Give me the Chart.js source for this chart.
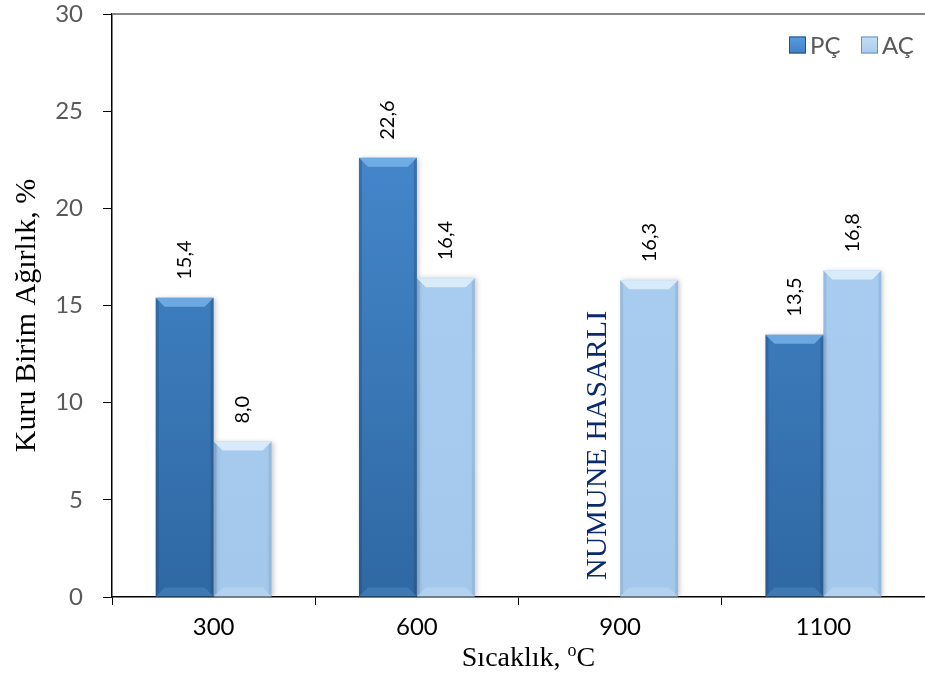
<!DOCTYPE html>
<html>
<head>
<meta charset="utf-8">
<script src="https://cdn.jsdelivr.net/npm/chart.js@4.4.0/dist/chart.umd.min.js"></script>
<style>
  html, body { margin: 0; padding: 0; background: #fff; }
  #wrap { width: 925px; height: 680px; }
</style>
</head>
<body>
<div id="wrap"><canvas id="chart"></canvas></div>
<script>
const categories = ['300', '600', '900', '1100']
const pcValues = [15.4, 22.6, null, 13.5]
const acValues = [8.0, 16.4, 16.3, 16.8]
const seriesNames = ['PÇ', 'AÇ']
const yTicks = [0, 5, 10, 15, 20, 25, 30]
const damagedNote = 'NUMUNE HASARLI'
const yTitle = 'Kuru Birim Ağırlık, %'
const xTitle = ['Sıcaklık, ', 'o', 'C']

const sans = 'Lato, "Liberation Sans", sans-serif'
const serif = '"Liberation Serif", "Times New Roman", serif'
const legendColors = [['#3f80c4', '#24507e'], ['#a6caee', '#6f8fb0']]

function fillGradient(top, bottom) {
  return ctx => {
    const area = ctx.chart.chartArea
    if (!area) return top
    const g = ctx.chart.ctx.createLinearGradient(0, area.top, 0, area.bottom)
    g.addColorStop(0, top)
    g.addColorStop(1, bottom)
    return g
  }
}

// bevel look drawn over each bar, using the bar elements' own positions
const bevelPlugin = {
  id: 'bevel',
  beforeDatasetsDraw(chart) {
    const c = chart.ctx
    c.save()
    c.shadowColor = 'rgba(0,0,0,0.22)'
    c.shadowBlur = 5
    c.shadowOffsetX = 2
    c.shadowOffsetY = 0
  },
  afterDatasetsDraw(chart) {
    const c = chart.ctx
    c.restore()
    const tones = [
      { top: 'rgba(130,188,240,0.7)', side: 'rgba(20,50,90,0.25)', bottom: 'rgba(110,170,230,0.25)' },
      { top: 'rgba(225,240,253,0.85)', side: 'rgba(60,100,140,0.15)', bottom: 'rgba(200,225,248,0.4)' }
    ]
    chart.data.datasets.forEach((ds, di) => {
      const meta = chart.getDatasetMeta(di)
      meta.data.forEach((bar, i) => {
        if (ds.data[i] == null) return
        const p = bar.getProps(['x', 'y', 'base', 'width'], true)
        const l = p.x - p.width / 2, r = p.x + p.width / 2
        const t = p.y, b = p.base
        const bv = 9, sv = 3
        const tone = tones[di]
        c.save()
        c.fillStyle = tone.top
        c.beginPath()
        c.moveTo(l, t); c.lineTo(r, t); c.lineTo(r - bv, t + bv); c.lineTo(l + bv, t + bv); c.closePath()
        c.fill()
        c.fillStyle = tone.side
        c.beginPath()
        c.moveTo(l, t); c.lineTo(l + sv, t + sv); c.lineTo(l + sv, b - sv); c.lineTo(l, b); c.closePath()
        c.fill()
        c.beginPath()
        c.moveTo(r, t); c.lineTo(r - sv, t + sv); c.lineTo(r - sv, b - sv); c.lineTo(r, b); c.closePath()
        c.fill()
        c.fillStyle = tone.bottom
        c.beginPath()
        c.moveTo(l, b); c.lineTo(r, b); c.lineTo(r - bv, b - bv); c.lineTo(l + bv, b - bv); c.closePath()
        c.fill()
        c.restore()
      })
    })
  }
}

const textPlugin = {
  id: 'texts',
  afterDraw(chart) {
    const c = chart.ctx
    const area = chart.chartArea

    // top frame line
    c.save()
    c.strokeStyle = '#868686'
    c.lineWidth = 2
    c.beginPath()
    c.moveTo(area.left, area.top)
    c.lineTo(area.right, area.top)
    c.stroke()
    c.restore()

    // legend, top right inside the plot
    c.save()
    c.font = '24px ' + sans
    c.textBaseline = 'middle'
    c.textAlign = 'left'
    const ly = area.top + 31
    const starts = [area.right - 136, area.right - 64]
    seriesNames.forEach((name, i) => {
      const bx = starts[i]
      const g = c.createLinearGradient(0, ly - 9, 0, ly + 9)
      g.addColorStop(0, i === 0 ? '#5a9de0' : '#c4dff7')
      g.addColorStop(1, legendColors[i][0])
      c.fillStyle = g
      c.fillRect(bx, ly - 8.5, 17, 17)
      c.strokeStyle = legendColors[i][1]
      c.lineWidth = 1
      c.strokeRect(bx + 0.5, ly - 8, 16, 16)
      c.fillStyle = '#595959'
      c.fillText(name, bx + 21, ly + 1)
    })
    c.restore()

    // value labels, rotated
    c.save()
    c.fillStyle = '#000'
    c.font = '20px ' + sans
    c.textAlign = 'left'
    c.textBaseline = 'middle'
    chart.data.datasets.forEach((ds, di) => {
      chart.getDatasetMeta(di).data.forEach((bar, i) => {
        const v = ds.data[i]
        if (v == null) return
        c.save()
        c.translate(bar.x, bar.y - 18)
        c.rotate(-Math.PI / 2)
        c.fillText(v.toFixed(1).replace('.', ','), 0, 0)
        c.restore()
      })
    })
    c.restore()

    // note for the missing PÇ bar
    const idx = pcValues.findIndex(v => v == null)
    if (idx >= 0) {
      const acBar = chart.getDatasetMeta(1).data[idx]
      const nx = acBar.x - acBar.width + 7
      c.save()
      c.fillStyle = '#0b2a6b'
      c.font = '30px ' + serif
      c.textAlign = 'left'
      c.textBaseline = 'middle'
      c.translate(nx, area.bottom - 17)
      c.rotate(-Math.PI / 2)
      c.fillText(damagedNote, 0, 0)
      c.restore()
    }

    // y axis title
    c.save()
    c.fillStyle = '#000'
    c.font = '30px ' + serif
    c.textAlign = 'center'
    c.textBaseline = 'middle'
    c.translate(27, (area.top + area.bottom) / 2 + 10)
    c.rotate(-Math.PI / 2)
    c.fillText(yTitle, 0, 0)
    c.restore()

    // x axis title with superscript o
    c.save()
    c.fillStyle = '#000'
    c.textBaseline = 'alphabetic'
    const big = '28px ' + serif, small = '18px ' + serif
    c.font = big
    const w1 = c.measureText(xTitle[0]).width
    const w3 = c.measureText(xTitle[2]).width
    c.font = small
    const w2 = c.measureText(xTitle[1]).width
    let x = (area.left + area.right) / 2 + 10 - (w1 + w2 + w3) / 2
    const base = 666
    c.font = big
    c.fillText(xTitle[0], x, base)
    x += w1
    c.font = small
    c.fillText(xTitle[1], x, base - 10)
    x += w2
    c.font = big
    c.fillText(xTitle[2], x, base)
    c.restore()
  }
}

new Chart(document.querySelector('#chart'), {
  type: 'bar',
  data: {
    labels: categories,
    datasets: [{
      label: seriesNames[0],
      data: pcValues,
      backgroundColor: fillGradient('#4a90d6', '#2f68a3'),
      borderWidth: 0
    }, {
      label: seriesNames[1],
      data: acValues,
      backgroundColor: fillGradient('#acd0f2', '#a3c8ec'),
      borderWidth: 0
    }]
  },
  plugins: [bevelPlugin, textPlugin],
  options: {
    responsive: true,
    maintainAspectRatio: false,
    animation: false,
    categoryPercentage: 0.57,
    barPercentage: 1,
    layout: { padding: { top: 14, left: 0, right: 0, bottom: 0 } },
    scales: {
      x: {
        offset: true,
        afterFit: scale => { scale.height = 83; scale.paddingLeft = 0; scale.paddingRight = 0 },
        border: { color: '#000', width: 1.5 },
        grid: { drawOnChartArea: false, tickLength: 8, tickColor: '#000', offset: true },
        ticks: { color: '#000', font: { family: sans, size: 24 }, padding: 8 }
      },
      y: {
        min: 0,
        max: 30,
        afterFit: scale => { scale.width = 112; scale.paddingTop = 0; scale.paddingBottom = 0 },
        afterBuildTicks: scale => { scale.ticks = yTicks.map(v => ({ value: v })) },
        border: { color: '#000', width: 1.5 },
        grid: { drawOnChartArea: false, tickLength: 9, tickColor: '#000' },
        ticks: { color: '#595959', font: { family: sans, size: 24 }, padding: 20 }
      }
    },
    plugins: {
      tooltip: { enabled: false },
      legend: { display: false }
    }
  }
})
</script>
</body>
</html>
